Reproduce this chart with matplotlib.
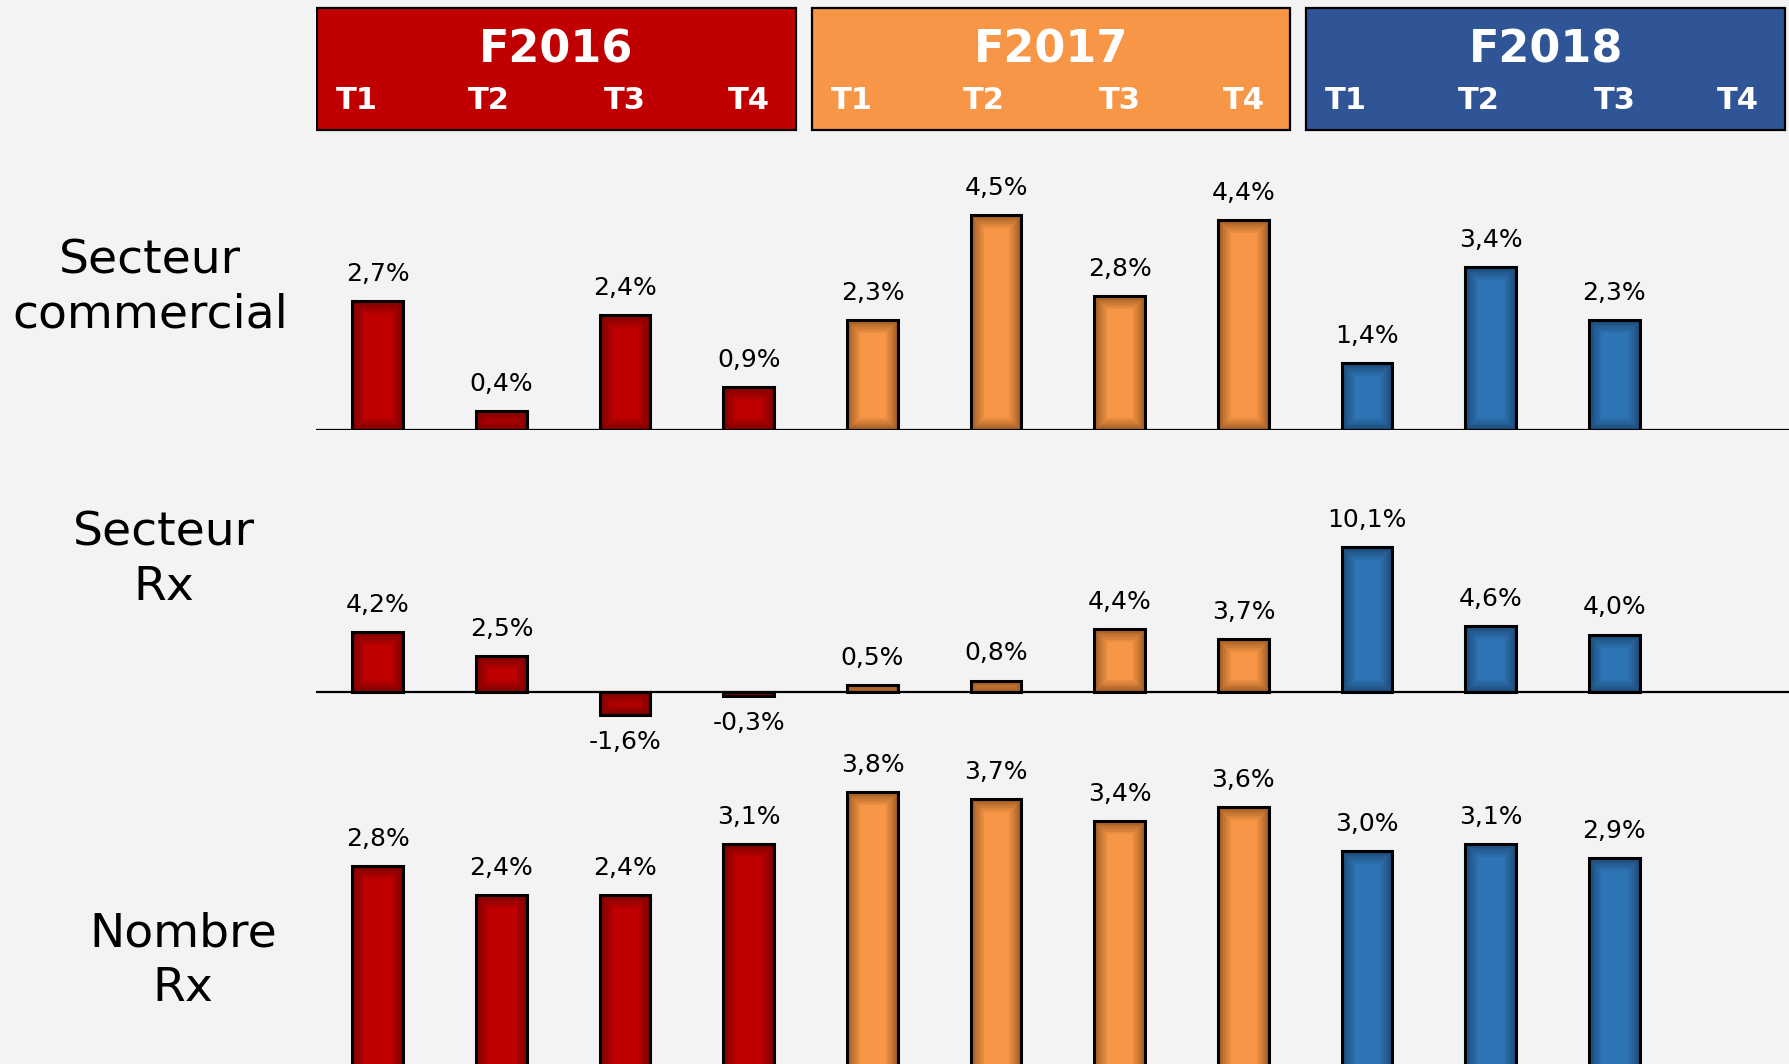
import matplotlib
matplotlib.use("Agg")
import matplotlib.pyplot as plt
from matplotlib.patches import Rectangle

# data
years = ['F2016', 'F2017', 'F2018']
quarters = ['T1', 'T2', 'T3', 'T4']
row_labels = ['Secteur\ncommercial', 'Secteur\nRx', 'Nombre\nRx']
secteur_commercial = [2.7, 0.4, 2.4, 0.9, 2.3, 4.5, 2.8, 4.4, 1.4, 3.4, 2.3]
secteur_rx = [4.2, 2.5, -1.6, -0.3, 0.5, 0.8, 4.4, 3.7, 10.1, 4.6, 4.0]
nombre_rx = [2.8, 2.4, 2.4, 3.1, 3.8, 3.7, 3.4, 3.6, 3.0, 3.1, 2.9]

year_colors = ['#C00000', '#F79646', '#2E75B6']
header_colors = ['#C00000', '#F79646', '#2F5597']
shade_colors = ['#300000', '#3a1a02', '#0c1d30']
bg = '#F3F3F3'

W, H = 1790, 1064
fig = plt.figure(figsize=(W / 100, H / 100), dpi=100, facecolor=bg)

left_px = 316
xlim = (-0.5, 11.42)


def add_ax(top_px, bottom_px):
    ax = fig.add_axes([left_px / W, 1 - bottom_px / H, (W - left_px) / W, (bottom_px - top_px) / H])
    ax.set_facecolor(bg)
    ax.set_xlim(*xlim)
    ax.axis('off')
    return ax


# header with year boxes
hax = add_ax(0, 140)
hax.set_ylim(0, 1)
q_offsets = [-0.17, 0.9, 2.0, 3.0]
for k, year in enumerate(years):
    x0 = 4 * k - 0.49
    hax.add_patch(Rectangle((x0, 0.07), 3.87, 0.875, facecolor=header_colors[k],
                            edgecolor='black', linewidth=1.6))
    hax.text(x0 + 3.87 / 2, 0.645, year, color='white', fontsize=32, fontweight='bold',
             ha='center', va='center')
    for q, off in zip(quarters, q_offsets):
        hax.text(4 * k + off, 0.285, q, color='white', fontsize=22, fontweight='bold',
                 ha='center', va='center')


def draw_panel(ax, values, show_base=True):
    xs = list(range(len(values)))
    cols = [year_colors[i // 4] for i in xs]
    shades = [shade_colors[i // 4] for i in xs]
    bars = ax.bar(xs, values, width=0.41, color=cols, edgecolor='none', zorder=3)
    # soft inner darkening near the bar edges
    for b, sc in zip(bars, shades):
        for lw in [18, 15, 12, 9, 7, 5, 3]:
            r = Rectangle(b.get_xy(), b.get_width(), b.get_height(), fill=False,
                          edgecolor=sc, linewidth=lw, alpha=0.08, zorder=4)
            ax.add_patch(r)
            r.set_clip_path(b)
    ax.bar(xs, values, width=0.41, fill=False, edgecolor='black', linewidth=2.2, zorder=5)
    if show_base:
        ax.axhline(0, color='black', linewidth=1.6, zorder=2)
    for x, v in zip(xs, values):
        lab = f'{v:.1f}%'.replace('.', ',')
        off = 19.5 if v >= 0 else -19.5
        ax.annotate(lab, (x, v), xytext=(0, off), textcoords='offset points',
                    ha='center', va='center', fontsize=18, color='black',
                    annotation_clip=False)


# panels: (top px, bottom px, baseline px, px per %)
panels = [(140, 430, 430, 47.8, secteur_commercial),
          (470, 760, 692, 14.36, secteur_rx),
          (770, 1064, 1073, 74.0, nombre_rx)]
for top, bot, base, scale, vals in panels:
    ax = add_ax(top, bot)
    ax.set_ylim(-(bot - base) / scale, (base - top) / scale)
    draw_panel(ax, vals)

# row labels
label_pos = [(150, 288), (164, 560), (183, 961)]
for (lx, ly), lab in zip(label_pos, row_labels):
    fig.text(lx / W, 1 - ly / H, lab, ha='center', va='center', fontsize=34,
             linespacing=1.27, color='black')

fig.savefig('out.png', dpi=100, facecolor=bg)
